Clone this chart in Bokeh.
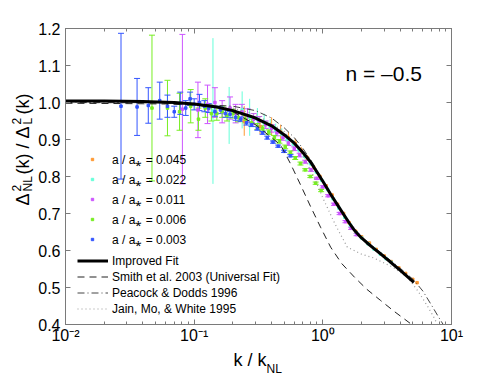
import math
from bokeh.plotting import figure
from bokeh.layouts import row, column
from bokeh.models import (ColumnDataSource, Whisker, TeeHead, Legend, LegendItem, Label,
                          LogAxis, LinearAxis, FixedTicker, PrintfTickFormatter,
                          CustomJSTickFormatter)
from bokeh.embed import file_html
from bokeh.resources import INLINE

FONT = "Liberation Sans"
AXIS_GRAY = "#7a7a7a"

# ---------------- fitted / model curves (k/k_NL, ratio) ----------------
fit_k = [0.01, 0.02, 0.04, 0.07, 0.1, 0.15, 0.2, 0.3, 0.4, 0.5, 0.6, 0.7, 0.8, 0.9,
         1.0, 1.15, 1.33, 1.5, 1.6, 1.74, 1.9, 2.0, 2.2, 2.5, 3.0, 4.0, 5.1]
fit_r = [1.004, 1.004, 1.003, 1.0, 0.996, 0.988, 0.978, 0.958, 0.937, 0.913, 0.89, 0.865,
         0.84, 0.812, 0.787, 0.752, 0.718, 0.69, 0.675, 0.657, 0.642, 0.634, 0.621,
         0.605, 0.583, 0.546, 0.514]

smith_k = [0.01, 0.03, 0.06, 0.1, 0.15, 0.2, 0.3, 0.4, 0.47, 0.56, 0.67, 0.8, 0.96,
           1.15, 1.4, 1.76, 2.2, 2.81, 3.6, 4.82, 5.0]
smith_r = [0.998, 0.997, 0.996, 0.993, 0.987, 0.975, 0.94, 0.905, 0.885, 0.835, 0.778,
           0.72, 0.663, 0.609, 0.565, 0.528, 0.495, 0.465, 0.435, 0.402, 0.397]

pd_k = [0.01, 0.05, 0.1, 0.2, 0.3, 0.4, 0.5, 0.6, 0.7, 0.85, 1.0, 1.3, 1.74, 2.3, 3.0,
        4.0, 5.1, 6.0, 7.0, 8.0, 8.8]
pd_r = [1.0, 0.999, 0.996, 0.99, 0.978, 0.958, 0.932, 0.905, 0.876, 0.832, 0.79, 0.722,
        0.657, 0.618, 0.587, 0.552, 0.52, 0.49, 0.452, 0.418, 0.395]

jmw_k = [0.01, 0.05, 0.1, 0.2, 0.3, 0.5, 0.7, 0.85, 1.0, 1.25, 1.55, 2.0, 2.48, 3.5,
         4.54, 5.5, 6.5, 7.28, 7.9]
jmw_r = [1.0, 0.999, 0.996, 0.985, 0.968, 0.922, 0.858, 0.8, 0.742, 0.67, 0.609, 0.59,
         0.58, 0.555, 0.528, 0.49, 0.45, 0.42, 0.395]

# ---------------- simulation outputs: k/k_NL, ratio, 1-sigma error ----------------
k_a045 = [0.245, 0.325, 0.40, 0.47, 0.54, 0.61, 0.68, 0.76, 0.85, 0.95, 1.06, 1.18, 1.3,
          1.45, 1.6, 1.8, 2.0, 2.3, 2.6, 3.0, 3.4, 3.9, 4.4, 5.0, 5.4]
r_a045 = [0.95, 0.935, 0.935, 0.92, 0.905, 0.89, 0.87, 0.85, 0.825, 0.80, 0.775, 0.75,
          0.725, 0.70, 0.675, 0.652, 0.637, 0.62, 0.603, 0.585, 0.57, 0.553, 0.538,
          0.522, 0.513]
e_a045 = [0.04, 0.02, 0.025, 0.02, 0.015, 0.012, 0.01, 0.008, 0.007, 0.006, 0.005, 0.005,
          0.004, 0.004, 0.004, 0.003, 0.003, 0.003, 0.003, 0.003, 0.003, 0.003, 0.003,
          0.003, 0.003]

k_a022 = [0.14, 0.187, 0.236, 0.27, 0.31, 0.35, 0.39, 0.43, 0.48, 0.53, 0.59, 0.65, 0.72,
          0.80, 0.89, 0.98, 1.09, 1.2, 1.33, 1.48, 1.64, 1.82, 2.0, 2.25, 2.5, 2.8, 3.1, 3.4]
r_a022 = [0.977, 0.965, 0.98, 0.96, 0.955, 0.945, 0.935, 0.925, 0.915, 0.90, 0.888, 0.872,
          0.855, 0.835, 0.812, 0.79, 0.765, 0.74, 0.715, 0.69, 0.668, 0.648, 0.634, 0.618,
          0.604, 0.59, 0.578, 0.568]
e_a022 = [0.197, 0.077, 0.05, 0.05, 0.03, 0.025, 0.02, 0.018, 0.015, 0.012, 0.01, 0.008,
          0.007, 0.006, 0.005, 0.005, 0.004, 0.004, 0.003, 0.003, 0.003, 0.003, 0.003,
          0.003, 0.003, 0.003, 0.003, 0.003]

k_a011 = [0.081, 0.107, 0.127, 0.145, 0.165, 0.19, 0.21, 0.235, 0.26, 0.29, 0.32, 0.36,
          0.40, 0.44, 0.49, 0.54, 0.60, 0.66, 0.73, 0.81, 0.90, 1.0, 1.1, 1.22, 1.35, 1.5,
          1.66, 1.83]
r_a011 = [0.982, 0.98, 0.995, 1.0, 0.975, 0.985, 0.97, 0.975, 0.965, 0.955, 0.95, 0.94,
          0.93, 0.918, 0.905, 0.89, 0.875, 0.858, 0.84, 0.818, 0.795, 0.772, 0.748, 0.725,
          0.70, 0.678, 0.66, 0.643]
e_a011 = [0.202, 0.075, 0.052, 0.04, 0.03, 0.03, 0.025, 0.02, 0.018, 0.015, 0.012, 0.01,
          0.01, 0.008, 0.007, 0.006, 0.005, 0.005, 0.004, 0.004, 0.003, 0.003, 0.003,
          0.003, 0.003, 0.003, 0.003, 0.003]

k_a006 = [0.047, 0.062, 0.077, 0.094, 0.108, 0.122, 0.136, 0.15, 0.165, 0.18, 0.20, 0.22,
          0.25, 0.28, 0.31, 0.34, 0.38, 0.42, 0.46, 0.51, 0.56, 0.61, 0.67, 0.73, 0.80,
          0.88, 0.97]
r_a006 = [0.985, 0.985, 0.975, 0.99, 0.955, 0.985, 0.97, 0.97, 0.975, 0.965, 0.97, 0.96,
          0.955, 0.945, 0.935, 0.93, 0.92, 0.905, 0.895, 0.88, 0.865, 0.85, 0.835, 0.818,
          0.80, 0.782, 0.762]
e_a006 = [0.197, 0.075, 0.05, 0.045, 0.03, 0.025, 0.02, 0.018, 0.015, 0.015, 0.012, 0.012,
          0.01, 0.01, 0.008, 0.007, 0.006, 0.006, 0.005, 0.005, 0.004, 0.004, 0.004, 0.003,
          0.003, 0.003, 0.003]

k_a003 = [0.027, 0.036, 0.044, 0.054, 0.062, 0.070, 0.078, 0.086, 0.093, 0.10, 0.11, 0.12,
          0.13, 0.145, 0.16, 0.175, 0.19, 0.21, 0.23, 0.255, 0.28, 0.31, 0.34, 0.37, 0.41,
          0.45, 0.50, 0.56]
r_a003 = [0.99, 0.988, 0.992, 1.005, 0.99, 0.975, 0.998, 0.985, 1.01, 0.995, 1.0, 0.99,
          0.985, 0.975, 0.98, 0.97, 0.968, 0.96, 0.955, 0.945, 0.94, 0.93, 0.918, 0.905,
          0.893, 0.882, 0.868, 0.856]
e_a003 = [0.197, 0.077, 0.048, 0.05, 0.03, 0.015, 0.03, 0.02, 0.018, 0.015, 0.022, 0.015,
          0.012, 0.012, 0.01, 0.01, 0.008, 0.008, 0.006, 0.006, 0.005, 0.005, 0.004,
          0.004, 0.003, 0.003, 0.003, 0.003]

series_labels = ["a / a\u204e = 0.045", "a / a\u204e = 0.022", "a / a\u204e = 0.011",
                 "a / a\u204e = 0.006", "a / a\u204e = 0.003"]
series_colors = ["#ff9933", "#66ffd9", "#cc55ff", "#77ee22", "#3355ff"]
series_caps = [False, False, True, True, True]
series_data = [(k_a045, r_a045, e_a045), (k_a022, r_a022, e_a022),
               (k_a011, r_a011, e_a011), (k_a006, r_a006, e_a006),
               (k_a003, r_a003, e_a003)]

line_labels = ["Improved Fit", "Smith et al. 2003 (Universal Fit)",
               "Peacock & Dodds 1996", "Jain, Mo, & White 1995"]

x_major_ticks = [0.01, 0.1, 1.0, 10.0]
x_tick_labels = ["10\u207b\u00b2", "10\u207b\u00b9", "10\u2070", "10\u00b9"]
y_ticks = [0.4, 0.5, 0.6, 0.7, 0.8, 0.9, 1.0, 1.1, 1.2]

# ---------------- layout sizes (page is 498 x 375) ----------------
YLAB_W = 34
MAIN_W = 498 - YLAB_W
MAIN_H = 347
XLAB_H = 375 - MAIN_H

# ---------------- main figure ----------------
p = figure(x_axis_type="log", x_range=(0.01, 10), y_range=(0.4, 1.2),
           width=MAIN_W, height=MAIN_H,
           min_border_left=65 - YLAB_W, min_border_right=47,
           min_border_top=28, min_border_bottom=MAIN_H - 324,
           output_backend="svg", toolbar_location=None,
           background_fill_color="white", border_fill_color="white")
p.grid.visible = False
p.outline_line_color = AXIS_GRAY

minor = [m * 10.0 ** e for e in (-2, -1, 0) for m in range(2, 10)]
xticker = FixedTicker(ticks=x_major_ticks, minor_ticks=minor)
yticker = FixedTicker(ticks=y_ticks)


def style_axis(ax):
    ax.axis_line_color = AXIS_GRAY
    ax.major_tick_line_color = AXIS_GRAY
    ax.minor_tick_line_color = AXIS_GRAY
    ax.major_tick_in = 5
    ax.major_tick_out = 0
    ax.minor_tick_in = 3
    ax.minor_tick_out = 0
    ax.major_label_text_font = FONT
    ax.major_label_text_font_size = "16px"
    ax.major_label_text_color = "black"


xa = p.xaxis[0]
xa.ticker = xticker
xa.major_label_overrides = dict(zip(x_major_ticks, x_tick_labels))
style_axis(xa)
xa.major_label_standoff = 2

ya = p.yaxis[0]
ya.ticker = yticker
ya.formatter = PrintfTickFormatter(format="%.1f")
style_axis(ya)
ya.minor_tick_line_color = None
ya.major_label_standoff = 5

blank = CustomJSTickFormatter(code="return ''")
top = LogAxis(ticker=xticker, formatter=blank)
style_axis(top)
p.add_layout(top, "above")
right = LinearAxis(ticker=yticker, formatter=blank)
style_axis(right)
right.minor_tick_line_color = None
p.add_layout(right, "right")

# ---------------- simulation data ----------------
data_renderers = []
for lab_txt, col, caps, (ks, rs, es) in zip(series_labels, series_colors, series_caps,
                                            series_data):
    src = ColumnDataSource(dict(k=ks, r=rs,
                                upper=[r + e for r, e in zip(rs, es)],
                                lower=[r - e for r, e in zip(rs, es)]))
    head_size = 6 if caps else 0
    w = Whisker(source=src, base="k", upper="upper", lower="lower", dimension="height",
                line_color=col, line_width=1,
                upper_head=TeeHead(size=head_size, line_color=col, line_width=1),
                lower_head=TeeHead(size=head_size, line_color=col, line_width=1))
    p.add_layout(w)
    data_renderers.append(
        p.scatter("k", "r", source=src, marker="square", size=2.5,
                  fill_color=col, line_color=col))

# ---------------- model curves ----------------
r_jmw = p.line(jmw_k, jmw_r, line_color="#999999", line_width=1.2, line_dash="1 3")
r_pd = p.line(pd_k, pd_r, line_color="#444444", line_width=1, line_dash="7 3 1 3")
r_smith = p.line(smith_k, smith_r, line_color="#222222", line_width=1, line_dash="7 5")
r_fit = p.line(fit_k, fit_r, line_color="black", line_width=3)

# ---------------- legends ----------------
def make_legend(items, loc, gw, gh, lh, sp, standoff):
    return Legend(items=items, location=loc, orientation="vertical",
                  glyph_width=gw, glyph_height=gh, label_height=lh, spacing=sp,
                  label_standoff=standoff, padding=0, margin=0,
                  border_line_color=None, background_fill_alpha=0,
                  label_text_font=FONT, label_text_font_size="12px",
                  label_text_color="black")


leg1 = make_legend([LegendItem(label=l, renderers=[r])
                    for l, r in zip(series_labels, data_renderers)],
                   (24, 76.5), 6, 6, 15, 3, 17)
leg2 = make_legend([LegendItem(label=l, renderers=[r])
                    for l, r in zip(line_labels, [r_fit, r_smith, r_pd, r_jmw])],
                   (12, 8.5), 31, 13, 13, 2, 4)
p.add_layout(leg1)
p.add_layout(leg2)


def lab(fig, text, x, y, size, angle=0.0):
    fig.add_layout(Label(x=x, y=y, x_units="screen", y_units="screen", text=text,
                         text_font=FONT, text_font_size=size, text_color="black",
                         text_align="left", text_baseline="alphabetic", angle=angle))


lab(p, "n = \u20130.5", 280, 251, "21px")


def text_panel(w, h):
    f = figure(width=w, height=h, x_range=(0, 1), y_range=(0, 1),
               x_axis_type=None, y_axis_type=None, min_border=0,
               output_backend="svg", toolbar_location=None,
               background_fill_color="white", border_fill_color="white")
    f.outline_line_color = None
    f.grid.visible = False
    return f


# ---------------- y axis label panel: Delta^2_NL(k) / Delta^2_L(k) ----------------
yl = text_panel(YLAB_W, MAIN_H)
R = math.pi / 2
lab(yl, "\u0394", 22.5, MAIN_H - 228, "18px", R)
lab(yl, "2", 16, MAIN_H - 214, "12px", R)
lab(yl, "NL", 27.5, MAIN_H - 214, "12px", R)
lab(yl, "(k) / \u0394", 22.5, MAIN_H - 197, "18px", R)
lab(yl, "2", 16, MAIN_H - 147, "12px", R)
lab(yl, "L", 27.5, MAIN_H - 147, "12px", R)
lab(yl, "(k)", 22.5, MAIN_H - 137, "18px", R)

# ---------------- x axis label panel: k / k_NL ----------------
xl = text_panel(498, XLAB_H)
lab(xl, "k / k", 233, 375 - 359, "18px")
lab(xl, "NL", 266, 375 - 368, "12px")

layout = column(row(yl, p), xl)
open("out.html", "w").write(file_html(layout, INLINE))
